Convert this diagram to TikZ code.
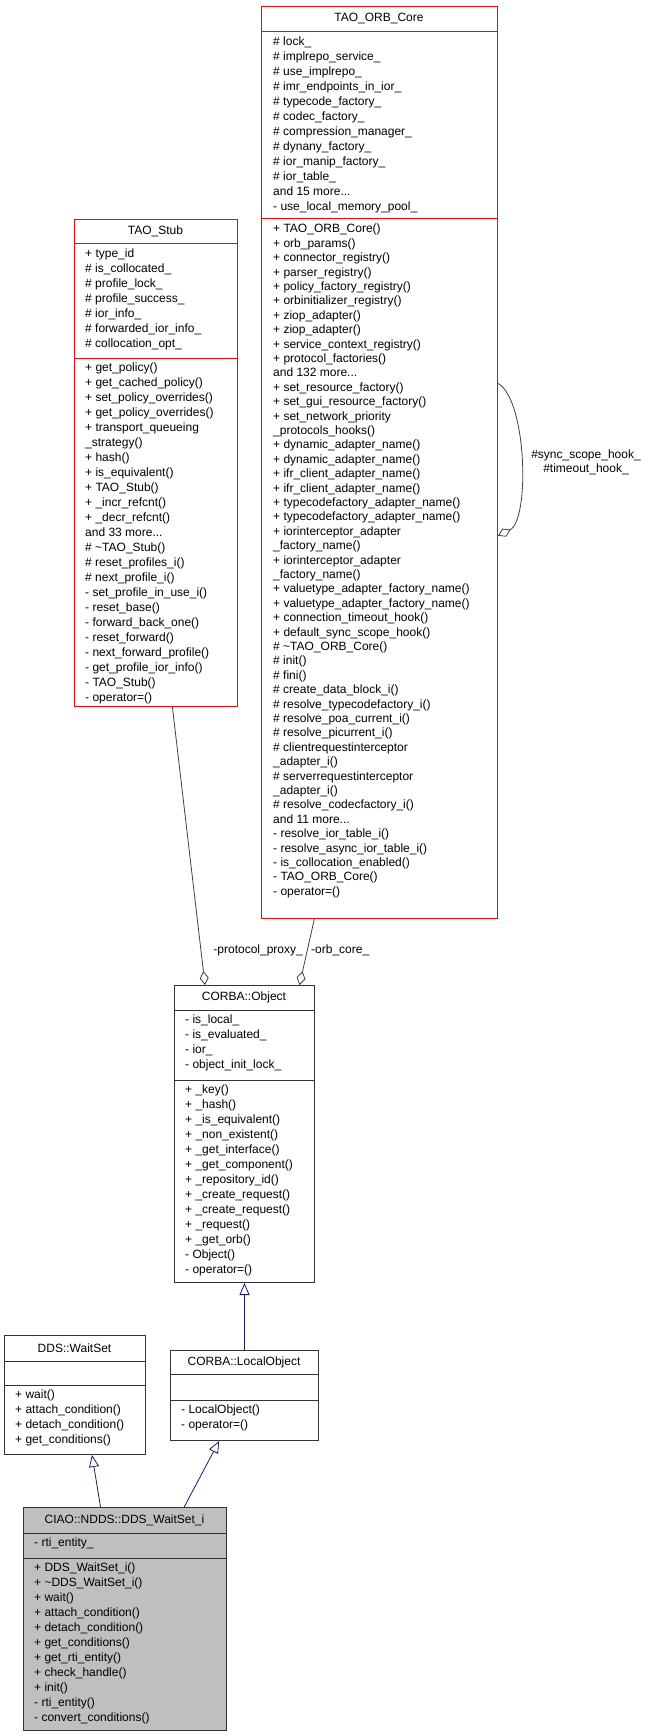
\documentclass[tikz,border=0pt]{standalone}
\usepackage{fontspec}
\setmainfont{Liberation Sans}
\usetikzlibrary{arrows.meta,calc}
\definecolor{redb}{HTML}{FF0000}
\definecolor{navyc}{HTML}{191970}
\definecolor{edgec}{HTML}{404040}
\definecolor{grayf}{HTML}{BFBFBF}
\tikzset{
  box/.style={draw, line width=1pt, anchor=north west, inner sep=0},
  redbox/.style={box, draw=redb},
  blkbox/.style={box, draw=black!80},
  ttl/.style={font={\fontsize{12}{15}\selectfont}, inner sep=0, anchor=center},
  txt/.style={font={\fontsize{12}{15}\selectfont}, align=left, inner sep=0, anchor=north west},
  txtb/.style={txt, font={\fontsize{12}{14.4}\selectfont}},
  agg/.style={draw=edgec, line width=0.8pt, -{Diamond[open,length=14pt,width=9pt]}},
  inh/.style={draw=navyc, line width=0.8pt, {Triangle[open,length=12pt,width=10pt]}-},
  lbl/.style={font={\fontsize{12}{14}\selectfont}, inner sep=0, align=center}
}
\begin{document}
\begin{tikzpicture}[x=1pt,y=-1pt]
\useasboundingbox (0,0) rectangle (648,1736);
% TAO_ORB_Core
\node[redbox, minimum width=236pt, minimum height=911.5pt] (orb) at (261,6.5) {};
\draw[redb, line width=1pt] (261,32) -- (497,32) (261,219) -- (497,219);
\node[ttl] (orbt) at (379,19) {TAO\_ORB\_Core};
\node[txt] (orba) at (273,37) {\# lock\_\\\# implrepo\_service\_\\\# use\_implrepo\_\\\# imr\_endpoints\_in\_ior\_\\\# typecode\_factory\_\\\# codec\_factory\_\\\# compression\_manager\_\\\# dynany\_factory\_\\\# ior\_manip\_factory\_\\\# ior\_table\_\\and 15 more...\\- use\_local\_memory\_pool\_};
\node[txtb] (orbm) at (273,224) {+ TAO\_ORB\_Core()\\+ orb\_params()\\+ connector\_registry()\\+ parser\_registry()\\+ policy\_factory\_registry()\\+ orbinitializer\_registry()\\+ ziop\_adapter()\\+ ziop\_adapter()\\+ service\_context\_registry()\\+ protocol\_factories()\\and 132 more...\\+ set\_resource\_factory()\\+ set\_gui\_resource\_factory()\\+ set\_network\_priority\\\_protocols\_hooks()\\+ dynamic\_adapter\_name()\\+ dynamic\_adapter\_name()\\+ ifr\_client\_adapter\_name()\\+ ifr\_client\_adapter\_name()\\+ typecodefactory\_adapter\_name()\\+ typecodefactory\_adapter\_name()\\+ iorinterceptor\_adapter\\\_factory\_name()\\+ iorinterceptor\_adapter\\\_factory\_name()\\+ valuetype\_adapter\_factory\_name()\\+ valuetype\_adapter\_factory\_name()\\+ connection\_timeout\_hook()\\+ default\_sync\_scope\_hook()\\\# \textasciitilde TAO\_ORB\_Core()\\\# init()\\\# fini()\\\# create\_data\_block\_i()\\\# resolve\_typecodefactory\_i()\\\# resolve\_poa\_current\_i()\\\# resolve\_picurrent\_i()\\\# clientrequestinterceptor\\\_adapter\_i()\\\# serverrequestinterceptor\\\_adapter\_i()\\\# resolve\_codecfactory\_i()\\and 11 more...\\- resolve\_ior\_table\_i()\\- resolve\_async\_ior\_table\_i()\\- is\_collocation\_enabled()\\- TAO\_ORB\_Core()\\- operator=()};
% TAO_Stub
\node[redbox, minimum width=163pt, minimum height=487pt] (stub) at (74,219) {};
\draw[redb, line width=1pt] (74,244) -- (237,244) (74,358) -- (237,358);
\node[ttl] (stubt) at (155.5,231.5) {TAO\_Stub};
\node[txt] (stuba) at (85,249) {+ type\_id\\\# is\_collocated\_\\\# profile\_lock\_\\\# profile\_success\_\\\# ior\_info\_\\\# forwarded\_ior\_info\_\\\# collocation\_opt\_};
\node[txt] (stubm) at (85,363) {+ get\_policy()\\+ get\_cached\_policy()\\+ set\_policy\_overrides()\\+ get\_policy\_overrides()\\+ transport\_queueing\\\_strategy()\\+ hash()\\+ is\_equivalent()\\+ TAO\_Stub()\\+ \_incr\_refcnt()\\+ \_decr\_refcnt()\\and 33 more...\\\# \textasciitilde TAO\_Stub()\\\# reset\_profiles\_i()\\\# next\_profile\_i()\\- set\_profile\_in\_use\_i()\\- reset\_base()\\- forward\_back\_one()\\- reset\_forward()\\- next\_forward\_profile()\\- get\_profile\_ior\_info()\\- TAO\_Stub()\\- operator=()};
% CORBA::Object
\node[blkbox, minimum width=140pt, minimum height=297pt] (obj) at (174,985) {};
\draw[black!80, line width=1pt] (174,1010) -- (314,1010) (174,1080) -- (314,1080);
\node[ttl] (objt) at (244,997.5) {CORBA::Object};
\node[txt] (obja) at (185,1015) {- is\_local\_\\- is\_evaluated\_\\- ior\_\\- object\_init\_lock\_};
\node[txt] (objm) at (185,1085) {+ \_key()\\+ \_hash()\\+ \_is\_equivalent()\\+ \_non\_existent()\\+ \_get\_interface()\\+ \_get\_component()\\+ \_repository\_id()\\+ \_create\_request()\\+ \_create\_request()\\+ \_request()\\+ \_get\_orb()\\- Object()\\- operator=()};
% DDS::WaitSet
\node[blkbox, minimum width=141pt, minimum height=119pt] (ws) at (4,1335) {};
\draw[black!80, line width=1pt] (4,1361) -- (145,1361) (4,1385) -- (145,1385);
\node[ttl] (wst) at (74.5,1348) {DDS::WaitSet};
\node[txt] (wsm) at (15,1390) {+ wait()\\+ attach\_condition()\\+ detach\_condition()\\+ get\_conditions()};
% CORBA::LocalObject
\node[blkbox, minimum width=148pt, minimum height=90pt] (lo) at (170,1350) {};
\draw[black!80, line width=1pt] (170,1374) -- (318,1374) (170,1400) -- (318,1400);
\node[ttl] (lot) at (244,1362) {CORBA::LocalObject};
\node[txt] (lom) at (181,1405) {- LocalObject()\\- operator=()};
% CIAO
\node[blkbox, fill=grayf, minimum width=203pt, minimum height=223pt] (ciao) at (23,1507) {};
\draw[black!80, line width=1pt] (23,1533) -- (226,1533) (23,1558) -- (226,1558);
\node[ttl] (ciaot) at (124.5,1520) {CIAO::NDDS::DDS\_WaitSet\_i};
\node[txt] (ciaoa) at (34,1538) {- rti\_entity\_};
\node[txt] (ciaom) at (34,1563) {+ DDS\_WaitSet\_i()\\+ \textasciitilde DDS\_WaitSet\_i()\\+ wait()\\+ attach\_condition()\\+ detach\_condition()\\+ get\_conditions()\\+ get\_rti\_entity()\\+ check\_handle()\\+ init()\\- rti\_entity()\\- convert\_conditions()};
% edges
\draw[agg] ($(stub.south west)!0.6!(stub.south east)$) -- ($(obj.north west)!0.22!(obj.north east)$);
\draw[agg] ($(orb.south west)!0.225!(orb.south east)$) -- ($(obj.north west)!0.89!(obj.north east)$);
\node[lbl, anchor=east] (l1) at (303,950) {-protocol\_proxy\_};
\node[lbl, anchor=west] (l2) at (311,950) {-orb\_core\_};
\draw[agg] ($(orb.north east)!0.413!(orb.south east)$) .. controls (527,400) and (530,520) .. ($(orb.north east)!0.58!(orb.south east)$);
\node[lbl] (l3) at (586,462) {\#sync\_scope\_hook\_\\\#timeout\_hook\_};
\draw[inh] (obj.south) -- (lo.north);
\draw[inh] ($(ws.south west)!0.62!(ws.south east)$) -- ($(ciao.north west)!0.38!(ciao.north east)$);
\draw[inh] ($(lo.south west)!0.33!(lo.south east)$) -- ($(ciao.north west)!0.79!(ciao.north east)$);
\end{tikzpicture}
\end{document}
